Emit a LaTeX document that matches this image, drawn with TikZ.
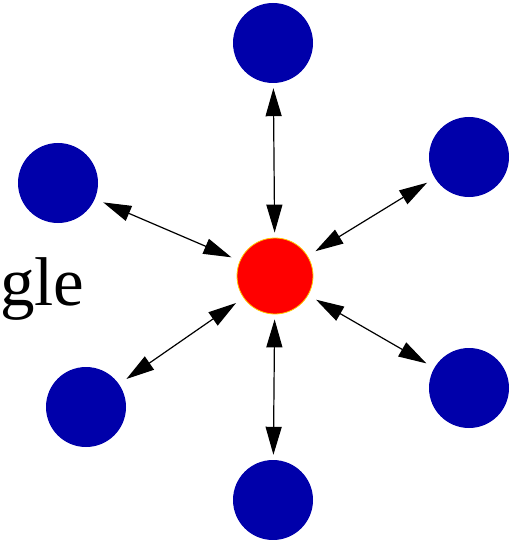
\documentclass[tikz,border=0pt]{standalone}
\usepackage{fontspec}
\setmainfont{Liberation Serif}
\usetikzlibrary{arrows.meta}
\definecolor{nodeblue}{RGB}{0,0,170}
\definecolor{hubred}{RGB}{255,0,0}
\definecolor{hubrim}{RGB}{255,200,0}
\begin{document}
\begin{tikzpicture}[
  x=1pt, y=-1pt,
  outer/.style={circle, fill=nodeblue, minimum size=80pt, inner sep=0pt},
  hub/.style={circle, fill=hubred, draw=hubrim, line width=0.8pt, minimum size=76pt, inner sep=0pt},
  link/.style={<->, line width=1.2pt, shorten >=9pt, shorten <=9pt},
  >={Triangle[length=28pt, width=16pt]}
]
\useasboundingbox (0,0) rectangle (518,540);
\node[hub]   (c)  at (275,276) {};
\node[outer] (t)  at (273,43)  {};
\node[outer] (ur) at (469,157) {};
\node[outer] (ul) at (58,183)  {};
\node[outer] (ll) at (86,407)  {};
\node[outer] (lr) at (469,388) {};
\node[outer] (b)  at (273,500) {};
\node[anchor=base west, inner sep=0pt, font=\fontsize{69}{75}\selectfont] (lbl) at (0,305) {gle};
\draw[link, shorten >=5pt, shorten <=5pt] (t) -- (c);
\draw[link] (ur) -- (c);
\draw[link] (ul) -- (c);
\draw[link] (ll) -- (c);
\draw[link] (lr) -- (c);
\draw[link, shorten >=5pt, shorten <=5pt] (b) -- (c);
\end{tikzpicture}
\end{document}
